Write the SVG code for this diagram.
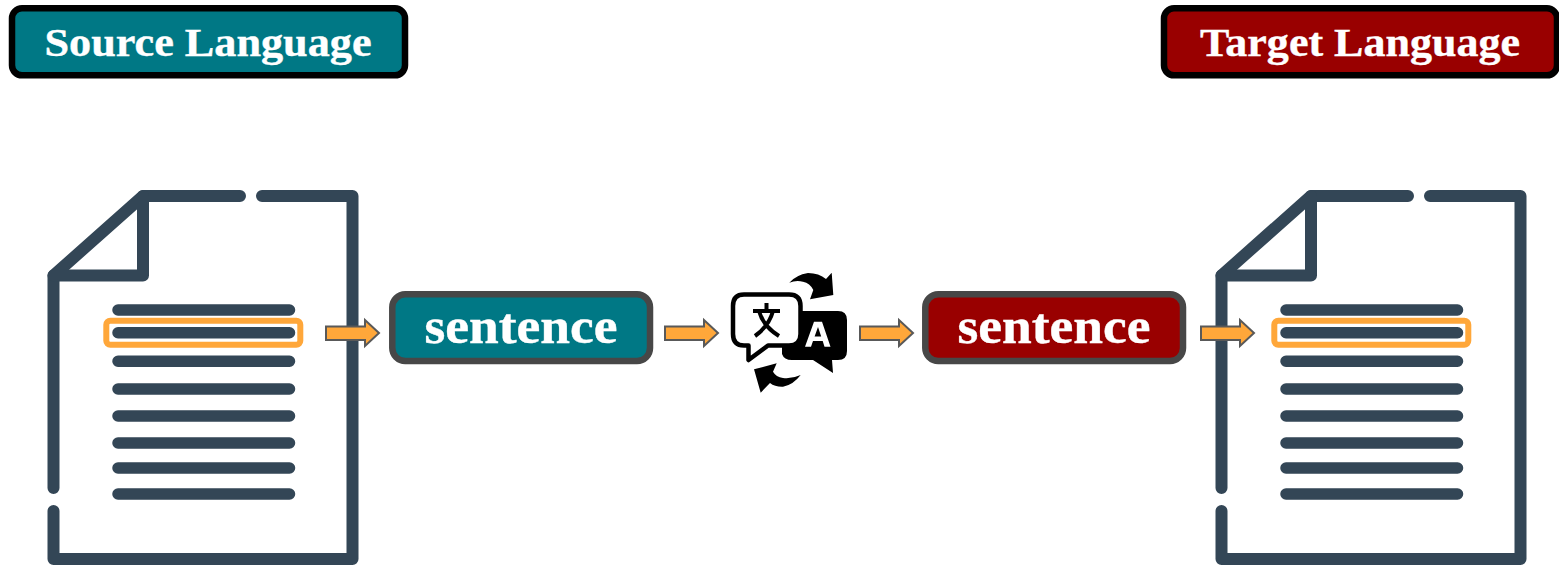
<svg xmlns="http://www.w3.org/2000/svg" width="1559" height="565" viewBox="0 0 1559 565">
<style>
.doc{fill:none;stroke:#334656;stroke-width:12;stroke-linecap:round;stroke-linejoin:round}
.ln{fill:none;stroke:#334656;stroke-width:11.500;stroke-linecap:round}
.hl{fill:none;stroke:#FFA73A;stroke-width:6}
.arr{fill:#FFA73A;stroke:#595959;stroke-width:2}
.t{font-family:"Liberation Serif","DejaVu Serif",serif;font-weight:700;fill:#fff;stroke:#fff;stroke-width:.4;text-anchor:middle}
.b1{stroke:#000;stroke-width:6.500}
.b2{stroke:#474747;stroke-width:6.500}
.teal{fill:#007885}
.red{fill:#990000}
</style>
<defs>
<g id="docshape">
<path class="doc" d="M53.500 488V275.500L143 196H240M262 196H352.500V559H53.500V511"/>
<path class="doc" d="M143 196V275.500H53.500"/>
<path class="ln" d="M118 310H289.500M118 332.800H289.500M118 361.300H289.500M118 389H289.500M118 416H289.500M118 443H289.500M118 468H289.500M118 494H289.500"/>
<rect class="hl" x="106.300" y="320.700" width="194" height="24" rx="4"/>
</g>
<path id="arrow" class="arr" d="M0 326.500H39V320L53 333L39 346V340H0Z"/>
</defs>
<g id="source-doc"><use href="#docshape"/></g>
<g id="target-doc"><use href="#docshape" x="1168"/></g>
<g id="source-language">
<rect class="b1 teal" x="12" y="8.300" width="393" height="67" rx="10"/>
<text class="t" x="208" y="56" font-size="41" textLength="327" lengthAdjust="spacingAndGlyphs">Source Language</text>
</g>
<g id="target-language">
<rect class="b1 red" x="1164" y="8.300" width="393" height="67" rx="10"/>
<text class="t" x="1360" y="56" font-size="41" textLength="320" lengthAdjust="spacingAndGlyphs">Target Language</text>
</g>
<g id="source-sentence">
<rect class="b2 teal" x="392.300" y="294.300" width="257.700" height="66.700" rx="13"/>
<text class="t" x="521" y="343" font-size="50" textLength="193" lengthAdjust="spacingAndGlyphs">sentence</text>
</g>
<g id="target-sentence">
<rect class="b2 red" x="925.300" y="294.300" width="257.700" height="66.700" rx="13"/>
<text class="t" x="1054" y="343" font-size="50" textLength="193" lengthAdjust="spacingAndGlyphs">sentence</text>
</g>
<g id="translate-icon">
<path fill="#000" d="M790 311H838Q847 311 847 320V351Q847 360 838 360H832L833 373L813 360H792Q784 360 782 354V340Z"/>
<path fill="#fff" stroke="#000" stroke-width="4.500" stroke-linejoin="round" d="M744 294.500H789Q800.500 294.500 800.500 306V334Q800.500 345.500 789 345.500H768L748.500 360V345.500H744Q733 345.500 733 334V306Q733 294.500 744 294.500Z"/>
<path fill="#fff" d="M805 346.700L814 321.700H822L830.500 346.700H824.500L822.700 341H813L811 346.700ZM814.600 336.500H821.200L818 327Z"/>
<path fill="none" stroke="#000" stroke-width="4" d="M753 311H780M766.500 303V311M773 311Q769 326 755 336M759 311Q763 326 779 336"/>
<path fill="#000" d="M789.300 282.700Q796 275 808 273Q819 273 826 279L831.700 272.700L833.300 295L810 299.300L813.300 290Q810 283 803 281.700Q796 280 789.300 282.700Z"/>
<path fill="#000" d="M800.700 375Q793 385 783 386.700Q775 387 770 383L760.700 392.700L754 369.300L776.700 363.300L773 371.700Q776 377 783 378Q792 379 800.700 375Z"/>
</g>
<g id="connectors">
<use href="#arrow" x="326"/>
<use href="#arrow" x="665"/>
<use href="#arrow" x="860"/>
<use href="#arrow" x="1201"/>
</g>
</svg>
